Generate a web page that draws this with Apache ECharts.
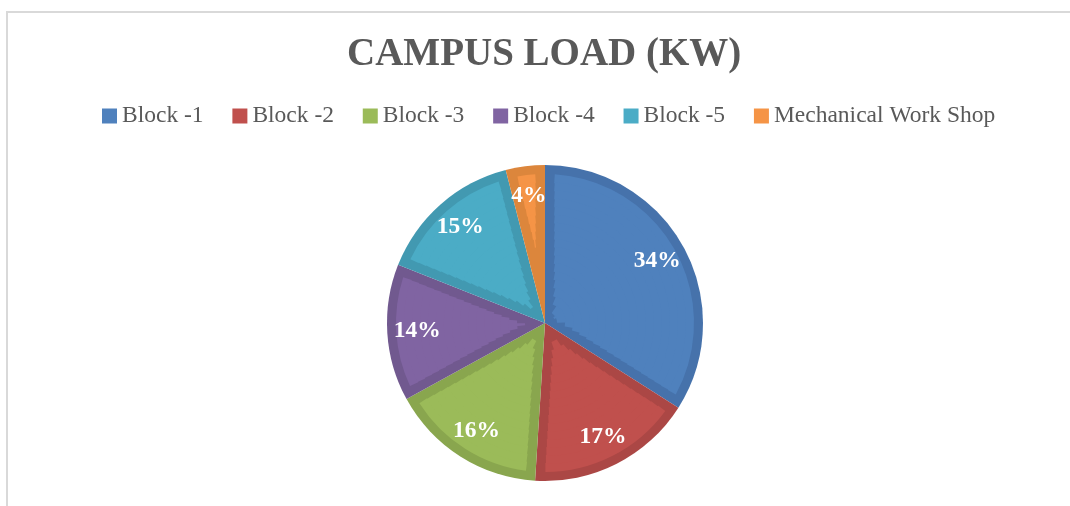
<!DOCTYPE html>
<html>
<head>
<meta charset="utf-8">
<script src="https://cdn.jsdelivr.net/npm/echarts@6/dist/echarts.min.js"></script>
<style>
  html, body { margin: 0; padding: 0; background: #ffffff; }
  #wrap { position: relative; width: 1070px; height: 506px; overflow: hidden; background: #fff; }
  #frame { position: absolute; left: 6px; top: 11px; width: 1100px; height: 520px;
           border-top: 2px solid #d9d9d9; border-left: 2px solid #d9d9d9; box-sizing: border-box; }
  #chart { position: absolute; left: 0; top: 0; width: 1070px; height: 506px; }
</style>
</head>
<body>
<div id="wrap">
  <div id="frame"></div>
  <div id="chart"></div>
</div>
<script>
const titleText = 'CAMPUS LOAD (KW)';
const categories = ['Block -1', 'Block -2', 'Block -3', 'Block -4', 'Block -5', 'Mechanical Work Shop'];
const shareValues = [34, 17, 16, 14, 15, 4];
const fillColors = ['#4f81bd', '#c0504d', '#9bbb59', '#8064a2', '#4bacc6', '#f59446'];
const edgeColors = ['#4672ab', '#ab4745', '#89a64e', '#71598f', '#4299b1', '#dc863c'];

const serif = '"Liberation Serif", "Times New Roman", serif';
const CENTER = [545, 323];
const OUTER_R = 158;
const RIM = 9;              // darker band along the outer arc
const INSET = 9.5;          // darker band along the radial edges
const START = 90;

const total = shareValues.reduce((a, b) => a + b, 0);
const seriesList = [];

// base: full slices in the darker edge colour
seriesList.push({
  type: 'pie',
  center: CENTER,
  radius: [0, OUTER_R],
  startAngle: START,
  clockwise: true,
  silent: true,
  z: 1,
  label: { show: false },
  labelLine: { show: false },
  itemStyle: { borderWidth: 0 },
  emphasis: { disabled: true },
  data: categories.map((name, i) => ({ name, value: shareValues[i], itemStyle: { color: edgeColors[i] } }))
});

// lighter fill, built as concentric rings so the dark inset keeps a near-constant width
const innerR = OUTER_R - RIM;
const step = 8;
for (let rOut = innerR; rOut > 12; rOut -= step) {
  const rLow = Math.max(rOut - step, 10);
  const rIn = Math.max(rLow - 1, 10);
  const mid = (rOut + rLow) / 2;
  const pad = 2 * Math.asin(Math.min(1, INSET / mid)) * 180 / Math.PI;
  // keep the leading slices that are still wider than the gap; trailing narrow ones stay dark
  let keep = shareValues.length;
  while (keep > 0 && shareValues[keep - 1] / total * 360 <= pad + 0.5) keep--;
  let ok = true;
  for (let i = 0; i < keep; i++) if (shareValues[i] / total * 360 <= pad + 0.5) ok = false;
  if (!ok || keep === 0) continue;
  const keptSum = shareValues.slice(0, keep).reduce((a, b) => a + b, 0);
  seriesList.push({
    type: 'pie',
    center: CENTER,
    radius: [rIn, rOut],
    startAngle: START,
    endAngle: START - 360 * keptSum / total,
    clockwise: true,
    padAngle: pad,
    silent: true,
    z: 2,
    label: { show: false },
    labelLine: { show: false },
    itemStyle: { borderWidth: 0 },
    emphasis: { disabled: true },
    data: categories.slice(0, keep).map((name, i) => ({ name, value: shareValues[i], itemStyle: { color: fillColors[i] } }))
  });
}

// percentage labels
seriesList.push({
  type: 'pie',
  center: CENTER,
  radius: [90, 160],
  startAngle: START,
  clockwise: true,
  silent: true,
  z: 3,
  itemStyle: { color: 'rgba(0,0,0,0)', borderWidth: 0 },
  label: {
    show: true,
    position: 'inside',
    formatter: '{d}%',
    fontFamily: serif,
    fontSize: 23.5,
    fontWeight: 'bold',
    color: '#ffffff'
  },
  labelLine: { show: false },
  emphasis: { disabled: true },
  data: categories.map((name, i) => ({ name, value: shareValues[i] }))
});

const chart = echarts.init(document.getElementById('chart'), null, { renderer: 'canvas' });
chart.setOption({
  animation: false,
  backgroundColor: 'transparent',
  title: {
    text: titleText,
    left: 342,
    top: 30,
    textStyle: { fontFamily: serif, fontSize: 39, fontWeight: 'bold', color: '#595959' }
  },
  legend: {
    data: categories.map((name, i) => ({ name, itemStyle: { color: fillColors[i], borderWidth: 0 } })),
    left: 97,
    top: 99,
    itemWidth: 15,
    itemHeight: 15,
    itemGap: 28.8,
    icon: 'rect',
    textStyle: { fontFamily: serif, fontSize: 23.5, color: '#595959' },
    selectedMode: false
  },
  series: seriesList
});
</script>
</body>
</html>
